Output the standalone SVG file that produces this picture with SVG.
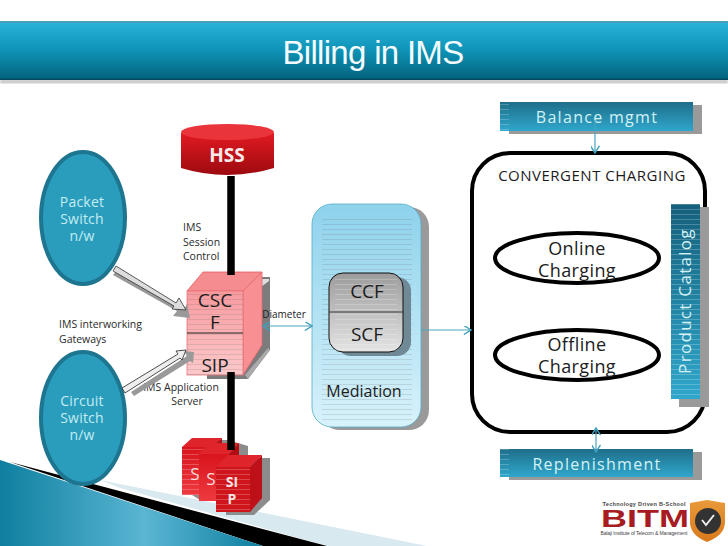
<svg xmlns="http://www.w3.org/2000/svg" width="728" height="546" viewBox="0 0 728 546">
<style>
text{font-family:"Open Sans","DejaVu Sans",sans-serif;text-anchor:middle}
.lbl{font-size:10.5px;fill:#2a2a2a}
.sw{font-size:14px;fill:#c4ecf2;letter-spacing:.2px}
.dk{font-size:19px;fill:#1c1c1c}
.chg{font-size:18px;fill:#1c1c1c;letter-spacing:.4px}
.bar{font-size:16px;fill:#d4f2f6;letter-spacing:1.3px}
.shd{fill:#9a9a9a}
.con{stroke:#4aa6c2;stroke-width:1.2;fill:none}
.thick{stroke:#000;stroke-width:7.500;fill:none}
.ell{fill:#2a9dbd;stroke:#1d7590;stroke-width:4}
.oval{fill:#fff;stroke:#000;stroke-width:4}
</style>
<defs>
<linearGradient id="hdr" x1="0" y1="0" x2="0" y2="1"><stop offset="0" stop-color="#2cb4dc"/><stop offset=".5" stop-color="#0e93b6"/><stop offset="1" stop-color="#04617c"/></linearGradient>
<linearGradient id="bar" x1="0" y1="0" x2="0" y2="1"><stop offset="0" stop-color="#1f6e8a"/><stop offset="1" stop-color="#2fa7cc"/></linearGradient>
<linearGradient id="hss" x1="0" y1="0" x2="0" y2="1"><stop offset="0" stop-color="#e21a22"/><stop offset="1" stop-color="#9c0a10"/></linearGradient>
<linearGradient id="med" x1="0" y1="0" x2="0" y2="1"><stop offset="0" stop-color="#8ed2ec"/><stop offset="1" stop-color="#d8f2fb"/></linearGradient>
<linearGradient id="gr" x1="0" y1="0" x2="0" y2="1"><stop offset="0" stop-color="#9c9c9c"/><stop offset="1" stop-color="#e4e4e4"/></linearGradient>
<linearGradient id="pk" x1="0" y1="0" x2="0" y2="1"><stop offset="0" stop-color="#f79a9e"/><stop offset="1" stop-color="#fcc9cb"/></linearGradient>
<linearGradient id="rd" x1="0" y1="0" x2="0" y2="1"><stop offset="0" stop-color="#d8141c"/><stop offset="1" stop-color="#ee3a40"/></linearGradient>
<linearGradient id="sw" x1="0" y1="0" x2="1" y2="0"><stop offset="0" stop-color="#0f7f9f"/><stop offset=".55" stop-color="#5ab6d3"/><stop offset="1" stop-color="#0f7f9f"/></linearGradient>
<linearGradient id="pc" x1="0" y1="0" x2="0" y2="1"><stop offset="0" stop-color="#14607c"/><stop offset="1" stop-color="#2fa7cc"/></linearGradient>
<linearGradient id="shield" x1="0" y1="0" x2="0" y2="1"><stop offset="0" stop-color="#e89a3a"/><stop offset="1" stop-color="#d9791c"/></linearGradient>
<pattern id="stripe" width="8" height="5" patternUnits="userSpaceOnUse"><rect y="4" width="8" height="1" fill="#fff" opacity=".22"/></pattern>
<pattern id="stripeD" width="8" height="5" patternUnits="userSpaceOnUse"><rect y="4" width="8" height="1" fill="#666" opacity=".18"/></pattern>
<marker id="ah" viewBox="0 0 10 10" refX="9" refY="5" markerWidth="9" markerHeight="9" orient="auto-start-reverse" markerUnits="userSpaceOnUse"><path d="M1 0L9 5L1 10" fill="none" stroke="#3f9fbc" stroke-width="1.6"/></marker>
<filter id="soft" x="-5%" y="-20%" width="110%" height="150%"><feGaussianBlur stdDeviation="1.500"/></filter>
</defs>

<rect width="728" height="546" fill="#fff"/>

<g id="background-swoosh">
<polygon points="100,480 427,546 327,546 120,488" fill="#d8e9ef"/>
<polygon points="10,462 327,546 263,546" fill="#000"/>
<polygon points="0,460 263,546 0,546" fill="url(#sw)"/>
</g>

<g id="header">
<rect x="0" y="80" width="728" height="3" fill="#777" opacity=".55" filter="url(#soft)"/>
<rect x="0" y="21" width="728" height="59" fill="url(#hdr)"/>
<rect x="0" y="21" width="728" height="2" fill="#4a9fb8"/>
<rect x="0" y="78.500" width="728" height="1.500" fill="#034a60"/>
<text x="373" y="64" style="font-family:'Liberation Sans',Arial,sans-serif;font-size:33px;letter-spacing:-.7px" fill="#f4fbfd">Billing in IMS</text>
</g>

<g id="packet-switch">
<ellipse class="ell" cx="83" cy="218" rx="42" ry="66"/>
<text class="sw" x="82" y="207">Packet</text><text class="sw" x="82" y="224">Switch</text><text class="sw" x="82" y="241">n/w</text>
</g>
<g id="circuit-switch">
<ellipse class="ell" cx="83" cy="418" rx="42" ry="66"/>
<text class="sw" x="82" y="406">Circuit</text><text class="sw" x="82" y="423">Switch</text><text class="sw" x="82" y="440">n/w</text>
</g>

<g id="hss">
<path d="M181 133V168Q227 182 274 168V133Z" fill="url(#hss)"/>
<ellipse cx="227.500" cy="132" rx="46.500" ry="8" fill="#e8343a"/>
<text x="227" y="162" style="font-size:19px;font-weight:700" fill="#fbeaea">HSS</text>
</g>

<g id="labels">
<text class="lbl" x="183" y="231" style="text-anchor:start">IMS</text>
<text class="lbl" x="183" y="246" style="text-anchor:start">Session</text>
<text class="lbl" x="183" y="260" style="text-anchor:start">Control</text>
<text class="lbl" x="59" y="328" style="text-anchor:start">IMS interworking</text>
<text class="lbl" x="59" y="343" style="text-anchor:start">Gateways</text>
<text class="lbl" x="181" y="391">IMS Application</text>
<text class="lbl" x="187" y="405">Server</text>
</g>

<g id="cscf">
<polygon points="205,277 270,277 270,350 248,379 207,379" fill="#7c7c7c"/>
<polygon points="254,279 269,279 269,281 254,292" fill="#ddd"/>
<polygon points="245,375 268,348 270,350 248,379" fill="#aaa"/>
<polygon points="187,291 203,272 262,272 243,291" fill="#f58c90" stroke="#e25a60" stroke-width=".8"/>
<polygon points="243,291 262,272 262,345 243,375" fill="#f78f93" stroke="#e8666c" stroke-width=".8"/>
<rect x="187" y="291" width="56" height="84" fill="url(#pk)" stroke="#e8777c" stroke-width=".8"/>
<rect x="187" y="291" width="56" height="84" fill="url(#stripeD)"/>
<line x1="187" y1="333" x2="243" y2="333" stroke="#222" stroke-width="1"/>
<text class="dk" x="215" y="307">CSC</text><text class="dk" x="215" y="329">F</text><text class="dk" x="215" y="372">SIP</text>
</g>

<g id="diameter-label"><text x="284" y="318" style="font-size:10px" fill="#222">Diameter</text></g>

<g id="mediation">
<rect x="320" y="207" width="109" height="223" rx="20" class="shd"/>
<rect x="312" y="204" width="109" height="223" rx="20" fill="url(#med)" stroke="#55acc8" stroke-width=".8"/>
<rect x="322" y="215" width="90" height="205" fill="url(#stripeD)"/>
<text x="364" y="397" style="font-size:16px" fill="#1c1c1c">Mediation</text>
</g>
<g id="ccf-scf">
<rect x="337" y="277" width="74" height="79" rx="14" fill="#6f8a96"/>
<rect x="329" y="273" width="74" height="79" rx="14" fill="url(#gr)" stroke="#111" stroke-width="1"/>
<rect x="335" y="275" width="62" height="75" fill="url(#stripe)"/>
<line x1="329" y1="312" x2="403" y2="312" stroke="#333" stroke-width="1"/>
<text class="dk" x="367" y="298">CCF</text><text class="dk" x="367" y="341">SCF</text>
</g>

<g id="convergent-charging">
<rect x="472" y="153" width="233" height="279" rx="38" fill="#fff" stroke="#000" stroke-width="4"/>
<text x="592" y="181" style="font-size:15px;letter-spacing:.5px" fill="#1c1c1c">CONVERGENT CHARGING</text>
</g>
<g id="online-charging">
<ellipse class="oval" cx="577" cy="258" rx="82" ry="25"/>
<text class="chg" x="577" y="255">Online</text><text class="chg" x="577" y="277">Charging</text>
</g>
<g id="offline-charging">
<ellipse class="oval" cx="577" cy="355" rx="82" ry="25"/>
<text class="chg" x="577" y="351">Offline</text><text class="chg" x="577" y="373">Charging</text>
</g>
<g id="product-catalog">
<rect x="679" y="207" width="30" height="200" class="shd"/>
<rect x="671" y="204" width="29" height="195" fill="url(#pc)"/>
<rect x="671" y="204" width="29" height="195" fill="url(#stripe)"/>
<text class="bar" transform="translate(691,301) rotate(-90)" style="font-size:17px">Product  Catalog</text>
</g>

<g id="balance-mgmt">
<rect x="509" y="105" width="193" height="29" class="shd"/>
<rect x="500" y="102" width="193" height="29" fill="url(#bar)"/>
<rect x="500" y="102" width="9" height="29" fill="url(#stripe)"/>
<text class="bar" x="597" y="123">Balance mgmt</text>
</g>
<g id="replenishment">
<rect x="509" y="452" width="193" height="28" class="shd"/>
<rect x="500" y="449" width="193" height="28" fill="url(#bar)"/>
<rect x="500" y="449" width="9" height="28" fill="url(#stripe)"/>
<text class="bar" x="597" y="470">Replenishment</text>
</g>

<g id="sip-stack">
<polygon points="192,440 228,440 248,446 248,498 200,500 192,495" fill="#8c8c8c"/>
<polygon points="182,447 192,438 222,438 212,447" fill="#e0242c"/>
<rect x="182" y="447" width="30" height="48" fill="url(#rd)"/>
<rect x="182" y="447" width="30" height="48" fill="url(#stripe)"/>
<polygon points="212,447 222,438 222,480 212,495" fill="#b40c14"/>
<text x="195" y="480" style="font-size:17px" fill="#fbdcdc">S</text>
<polygon points="199,454 209,443 239,443 229,454" fill="#e0242c"/>
<rect x="199" y="454" width="30" height="47" fill="url(#rd)"/>
<polygon points="229,454 239,443 239,488 229,501" fill="#b40c14"/>
<text x="211" y="485" style="font-size:17px" fill="#fbdcdc">S</text>
</g>

<g id="connectors">
<path class="thick" d="M231 176V275"/>
<path class="thick" d="M231 372V450"/>
<polygon points="117,270 184,309 187,304 190,318 173,316 177,311 113,275" fill="#999"/>
<polygon points="116,266 176,303 179,298 186,310 172,309 174,306 113,271" fill="#ddd" stroke="#333" stroke-width=".8"/>
<polygon points="131,392 187,356 184,351 194,352 193,363 190,361 134,396" fill="#999"/>
<polygon points="122,388 178,354 176,351 186,350 182,360 180,358 125,393" fill="#eee" stroke="#222" stroke-width=".8"/>
<line class="con" x1="263" y1="326" x2="312" y2="326" marker-start="url(#ah)" marker-end="url(#ah)"/>
<line class="con" x1="421" y1="330" x2="471" y2="330" marker-end="url(#ah)"/>
<line class="con" x1="595" y1="120" x2="595" y2="153" marker-end="url(#ah)"/>
<line class="con" x1="596" y1="428" x2="596" y2="452" marker-start="url(#ah)" marker-end="url(#ah)"/>
</g>

<g id="sip-front">
<polygon points="226,458 270,458 270,500 254,515 226,515" fill="#8c8c8c"/>
<polygon points="216,467 228,455 262,455 250,467" fill="#e0242c"/>
<polygon points="250,467 262,455 262,498 250,512" fill="#bd1018"/>
<rect x="216" y="467" width="34" height="45" fill="#d0141c"/>
<rect x="216" y="467" width="34" height="45" fill="url(#stripe)"/>
<text x="232" y="487" style="font-size:14px;font-weight:700" fill="#fbe4e4">SI</text>
<text x="232" y="504" style="font-size:14px;font-weight:700" fill="#fbe4e4">P</text>
</g>

<g id="logo">
<text x="644" y="506" style="font-family:'Liberation Sans',sans-serif;font-size:5.500px;font-weight:700" fill="#444" textLength="83" lengthAdjust="spacing">Technology  Driven B-School</text>
<text x="645" y="527" style="font-family:'Liberation Sans',sans-serif;font-size:23px;font-weight:700" fill="#a61c22" textLength="88" lengthAdjust="spacingAndGlyphs">BITM</text>
<text x="644" y="535" style="font-family:'Liberation Sans',sans-serif;font-size:5px" fill="#444" textLength="87" lengthAdjust="spacing">Balaji Institute of Telecom &amp; Management</text>
<path d="M690 503L707 500L725 503V522Q725 535 707 542Q690 535 690 522Z" fill="url(#shield)"/>
<circle cx="708" cy="521" r="13" fill="#333"/>
<path d="M702 520L706 525L714 515" fill="none" stroke="#eee" stroke-width="2"/>
</g>
</svg>
